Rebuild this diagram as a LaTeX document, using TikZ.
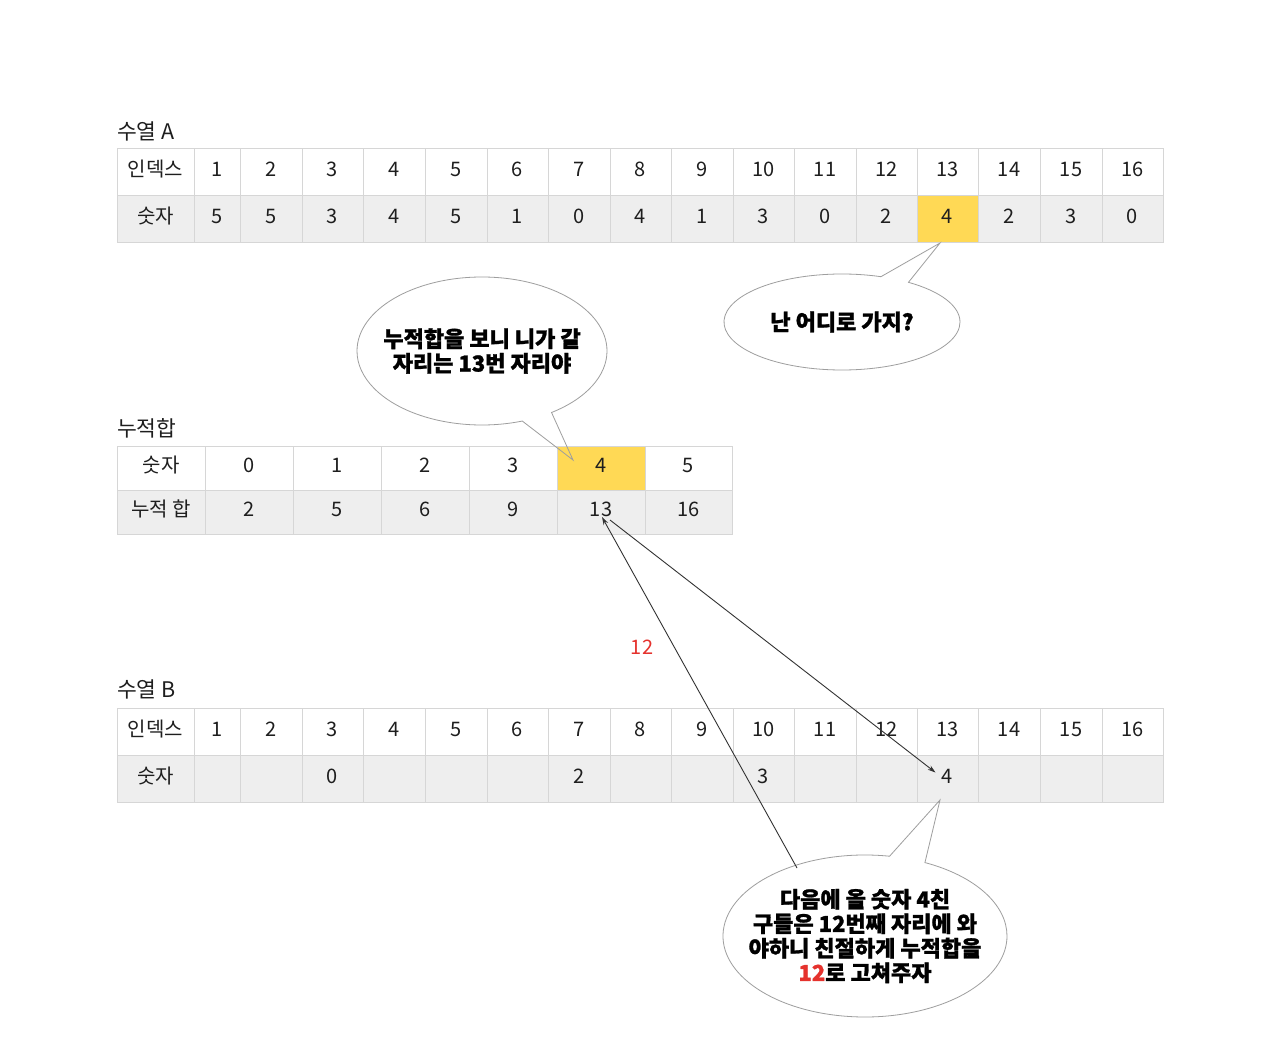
\documentclass[tikz,border=0pt]{standalone}
\usepackage{fontspec}
\setmainfont{Noto Sans CJK KR}[BoldFeatures={FakeBold=1.2}]
\usetikzlibrary{shapes.callouts,shapes.geometric,arrows.meta,calc}
\definecolor{gridc}{HTML}{D6D6D6}
\definecolor{rowg}{HTML}{EEEEEE}
\definecolor{hl}{HTML}{FFD955}
\definecolor{redt}{HTML}{E5322D}
\definecolor{bubc}{HTML}{9E9E9E}
\definecolor{arrc}{HTML}{333333}
\definecolor{txt}{HTML}{1E1E1E}
\begin{document}
\begin{tikzpicture}[x=1pt,y=-1pt,
  cell/.style={draw=gridc, line width=0.8pt, inner sep=0pt, outer sep=0pt,
    text height=15pt, text depth=6pt,
    font=\fontsize{20}{22}\selectfont, text=txt},
  ttl/.style={anchor=west, inner sep=0pt, font=\fontsize{21.5}{24}\selectfont, text=txt},
  bubble/.style={ellipse callout, draw=bubc, line width=0.8pt, inner xsep=-25pt, inner ysep=0pt,
    align=center, font=\bfseries\fontsize{22}{24.5}\selectfont, text=black},
  conn/.style={draw=arrc, line width=0.9pt, -{Stealth[length=8pt,width=5pt]}}
]
\useasboundingbox (0,0) rectangle (1280,1046);
\fill[white] (0,0) rectangle (1280,1046);

% ---------- Table A ----------
\node[ttl] (tA) at (117,131) {수열 A};
\foreach \n/\l/\r [count=\i] in {인덱스/117/194, 1/194/240, 2/240/302, 3/302/363, 4/363/425, 5/425/487, 6/487/548, 7/548/610, 8/610/671, 9/671/733, 10/733/794, 11/794/856, 12/856/917, 13/917/978, 14/978/1040, 15/1040/1102, 16/1102/1163}
  \node[cell, fill=white, minimum width={(\r-\l)*1pt}, minimum height=47pt] (a1-\i) at ({(\l+\r)/2},171.5) {\n};
\foreach \n/\l/\r [count=\i] in {숫자/117/194, 5/194/240, 5/240/302, 3/302/363, 4/363/425, 5/425/487, 1/487/548, 0/548/610, 4/610/671, 1/671/733, 3/733/794, 0/794/856, 2/856/917, 4/917/978, 2/978/1040, 3/1040/1102, 0/1102/1163}{
  \ifnum\i=14 \def\fc{hl}\else\def\fc{rowg}\fi
  \node[cell, fill=\fc, minimum width={(\r-\l)*1pt}, minimum height=47pt] (a2-\i) at ({(\l+\r)/2},218.5) {\n};
}

% ---------- Cumulative table ----------
\node[ttl] (tK) at (117,428) {누적합};
\foreach \n/\l/\r [count=\i] in {숫자/117/205, 0/205/293, 1/293/381, 2/381/469, 3/469/557, 4/557/645, 5/645/732}{
  \ifnum\i=6 \def\fc{hl}\else\def\fc{white}\fi
  \node[cell, fill=\fc, minimum width={(\r-\l)*1pt}, minimum height=44pt] (k1-\i) at ({(\l+\r)/2},468) {\n};
}
\foreach \n/\l/\r [count=\i] in {누적 합/117/205, 2/205/293, 5/293/381, 6/381/469, 9/469/557, 13/557/645, 16/645/732}
  \node[cell, fill=rowg, minimum width={(\r-\l)*1pt}, minimum height=44pt] (k2-\i) at ({(\l+\r)/2},512) {\n};

% ---------- Table B ----------
\node[ttl] (tB) at (117,689) {수열 B};
\foreach \n/\l/\r [count=\i] in {인덱스/117/194, 1/194/240, 2/240/302, 3/302/363, 4/363/425, 5/425/487, 6/487/548, 7/548/610, 8/610/671, 9/671/733, 10/733/794, 11/794/856, 12/856/917, 13/917/978, 14/978/1040, 15/1040/1102, 16/1102/1163}
  \node[cell, fill=white, minimum width={(\r-\l)*1pt}, minimum height=47pt] (b1-\i) at ({(\l+\r)/2},731.5) {\n};
\foreach \n/\l/\r [count=\i] in {숫자/117/194, /194/240, /240/302, 0/302/363, /363/425, /425/487, /487/548, 2/548/610, /610/671, /671/733, 3/733/794, /794/856, /856/917, 4/917/978, /978/1040, /1040/1102, /1102/1163}
  \node[cell, fill=rowg, minimum width={(\r-\l)*1pt}, minimum height=47pt] (b2-\i) at ({(\l+\r)/2},778.5) {\n};

% ---------- Bubbles ----------
\coordinate (tip1) at (940,243);
\coordinate (tip2) at (573,460);
\coordinate (tip3) at (940,800);
\node[bubble, minimum width=236pt, minimum height=96pt, callout absolute pointer={(tip1)}] (bub1) at (842,322) {난 어디로 가지?};
\node[bubble, minimum width=250pt, minimum height=148pt, callout absolute pointer={(tip2)}] (bub2) at (482,351) {누적합을 보니 니가 갈\\자리는 13번 자리야};
\node[bubble, minimum width=284pt, minimum height=162pt, callout absolute pointer={(tip3)}] (bub3) at (865,936) {다음에 올 숫자 4친\\구들은 12번째 자리에 와\\야하니 친절하게 누적합을\\\textcolor{redt}{12}로 고쳐주자};

% ---------- red label ----------
\node[inner sep=0pt, font=\fontsize{20}{22}\selectfont, text=redt] (lbl12) at (642,647) {12};

% ---------- Arrows ----------
\coordinate (s1) at ($(k2-6)+(9,8)$);
\coordinate (e1) at ($(b2-14)+(-12,-6)$);
\coordinate (s2) at (797,868);
\coordinate (e2) at ($(k2-6)+(1,5)$);
\draw[conn] (s1) -- (e1);
\draw[conn] (s2) -- (e2);
\end{tikzpicture}
\end{document}
